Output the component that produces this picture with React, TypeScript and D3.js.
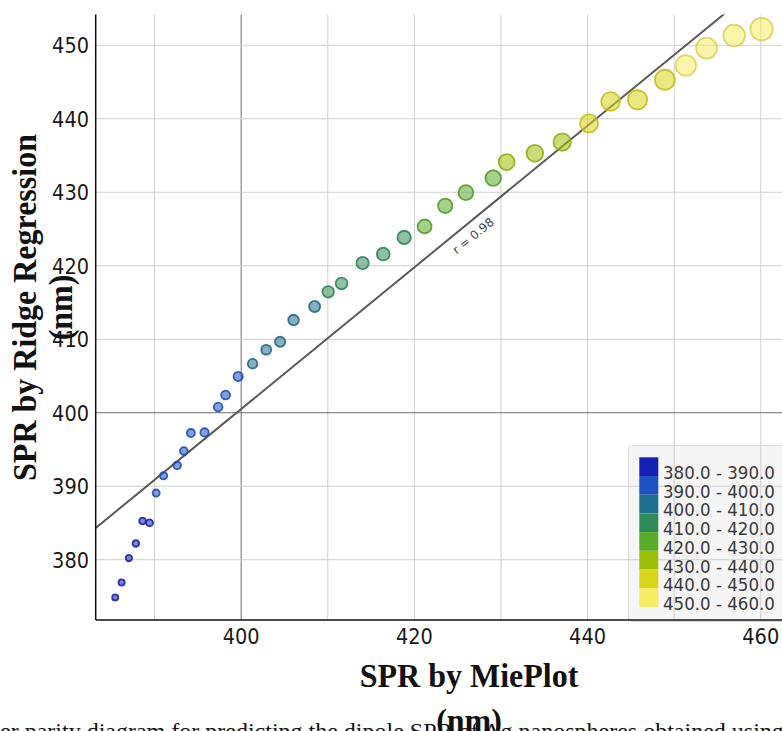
import React from "react";
import * as d3 from "d3";

const W = 782;
const H = 731;

// SPR by MiePlot (x) and SPR by Ridge Regression (y), in nm
const mieplot = [385.45, 386.19, 387.03, 387.84, 388.61, 389.42, 390.18, 391.04, 392.61, 393.38, 394.19, 395.77, 397.34, 398.2, 399.65, 401.32, 402.89, 404.5, 406.05, 408.48, 410.05, 411.59, 414.02, 416.4, 418.82, 421.18, 423.56, 425.95, 429.1, 430.65, 433.91, 437.07, 440.17, 442.66, 445.77, 448.93, 451.35, 453.74, 456.93, 460.09];
const ridge = [374.87, 376.91, 380.23, 382.22, 385.27, 385.03, 389.07, 391.43, 392.83, 394.79, 397.24, 397.32, 400.78, 402.41, 404.94, 406.67, 408.57, 409.66, 412.61, 414.46, 416.46, 417.59, 420.37, 421.59, 423.85, 425.35, 428.16, 429.96, 431.93, 434.11, 435.3, 436.83, 439.37, 442.35, 442.59, 445.31, 447.25, 449.62, 451.33, 452.2];

const binEdges = [390, 400, 410, 420, 430, 440, 450];
const binColors = ["#1421b3", "#1c52c2", "#1f6f8e", "#2f8c5a", "#5aab2a", "#9cbf0a", "#d8d41a", "#f7ec62"];
const legendLabels = ["380.0 - 390.0", "390.0 - 400.0", "400.0 - 410.0", "410.0 - 420.0", "420.0 - 430.0", "430.0 - 440.0", "440.0 - 450.0", "450.0 - 460.0"];

const xTicks = [400, 420, 440, 460];
const xGrid = [390, 400, 410, 420, 430, 440, 450, 460];
const yTicks = [380, 390, 400, 410, 420, 430, 440, 450];
const refValue = 400;

const fitSlope = 0.9636;
const fitIntercept = 15.07;
const fitLabel = "r = 0.98";
const fitLabelAt = 425.85;

const xTitle = ["SPR by MiePlot", "(nm)"];
const yTitle = ["SPR by Ridge Regression", "(nm)"];
const captionHidden = "Fig. 6. Scatt";
const captionVisible = "er parity diagram for predicting the dipole SPR of Ag nanospheres obtained using ridge regression";

const left = 95.7, right = 782.4, top = 14.4, bottom = 620;

export default function App() {
  React.useEffect(() => {
    document.body.style.margin = "0";
    document.body.style.overflow = "hidden";
  }, []);

  const x = d3.scaleLinear().domain([383.2, 462.5]).range([left, right]);
  const y = d3.scaleLinear().domain([371.8, 454.2]).range([bottom, top]);
  const color = d3.scaleThreshold<number, string>().domain(binEdges).range(binColors);
  const radius = d3.scaleLinear().domain([385, 460]).range([3, 11.2]);

  const fit = (v: number) => fitSlope * v + fitIntercept;
  const [d0, d1] = x.domain();
  const lineGen = d3.line<number>().x((v) => x(v)).y((v) => y(fit(v)));
  const fitPath = lineGen([d0, d1]) || "";
  const ang = (Math.atan2(y(fit(440)) - y(fit(400)), x(440) - x(400)) * 180) / Math.PI;

  const tickFont = "'DejaVu Sans Condensed', 'DejaVu Sans', sans-serif";
  const serif = "'Liberation Serif', 'Times New Roman', serif";

  const pts = mieplot.map((v, i) => ({ xv: v, yv: ridge[i] }));

  return (
    <svg width={W} height={H} style={{ position: "absolute", left: 0, top: 0, background: "#fff" }}>
      <defs>
        <clipPath id="plotclip">
          <rect x={left} y={top} width={right - left} height={bottom - top} />
        </clipPath>
      </defs>
      <rect x={0} y={0} width={W} height={H} fill="#fff" />

      {/* legend background (grid shows through) */}
      <rect x={628.5} y={445.5} width={170} height={176} rx={3} fill="#ececec" fillOpacity={0.55} stroke="#d8d8d8" strokeWidth={1} />

      {/* grid */}
      {xGrid.map((t) => (
        <line key={"gx" + t} x1={x(t)} x2={x(t)} y1={top} y2={bottom}
          stroke={t === refValue ? "#6e6e6e" : "#cfcfcf"} strokeWidth={1} />
      ))}
      {yTicks.map((t) => (
        <line key={"gy" + t} x1={left} x2={right} y1={y(t)} y2={y(t)}
          stroke={t === refValue ? "#6e6e6e" : "#cfcfcf"} strokeWidth={1} />
      ))}

      {/* fit line */}
      <g clipPath="url(#plotclip)">
        <path d={fitPath} fill="none" stroke="#5a5a5a" strokeWidth={2} />
      </g>
      <g transform={`translate(${x(fitLabelAt)},${y(fit(fitLabelAt))}) rotate(${ang})`}>
        <text x={0} y={17} textAnchor="middle" fontSize={12} fill="#444" fontFamily="'DejaVu Sans', sans-serif">{fitLabel}</text>
      </g>

      {/* points */}
      <g clipPath="url(#plotclip)">
        {pts.map((p, i) => {
          const c = color(p.xv);
          return (
            <circle key={i} cx={x(p.xv)} cy={y(p.yv)} r={radius(p.xv)}
              fill={c} fillOpacity={0.55}
              stroke={d3.color(c)!.darker(0.35).formatHex()} strokeOpacity={0.85} strokeWidth={1.8} />
          );
        })}
      </g>

      {/* legend */}
      {legendLabels.map((lab, i) => (
        <g key={"lg" + i}>
          <rect x={639.3} y={457.3 + i * 18.7} width={19} height={18.7} fill={binColors[i]} />
          <text x={663} y={479 + i * 18.7} fontSize={18.5} fill="#3a3a3a" fontFamily={tickFont} style={{ fontStretch: "condensed" }}>{lab}</text>
        </g>
      ))}

      {/* axes */}
      <line x1={left} x2={left} y1={top} y2={bottom} stroke="#111" strokeWidth={1.5} />
      <line x1={left} x2={W} y1={bottom} y2={bottom} stroke="#111" strokeWidth={1.5} />

      {xTicks.map((t) => (
        <text key={"xt" + t} x={x(t)} y={643.5} textAnchor="middle" fontSize={21.5} fill="#1a1a1a" fontFamily={tickFont} style={{ fontStretch: "condensed" }}>{t}</text>
      ))}
      {yTicks.map((t) => (
        <text key={"yt" + t} x={89} y={y(t) + 8} textAnchor="end" fontSize={21.5} fill="#1a1a1a" fontFamily={tickFont} style={{ fontStretch: "condensed" }}>{t}</text>
      ))}

      {/* caption (clipped by page bottom) */}
      <text x={0} y={739} textAnchor="end" fontSize={24} fill="#111" fontFamily={serif}>{captionHidden}</text>
      <text x={0} y={739} fontSize={24} fill="#111" fontFamily={serif}>{captionVisible}</text>

      {/* axis titles */}
      <g transform="translate(469,687.3) scale(1,1.07)" fontFamily={serif} fontWeight="bold" fontSize={32} fill="#111">
        <text x={0} y={0} textAnchor="middle">{xTitle[0]}</text>
        <text x={0} y={42} textAnchor="middle">{xTitle[1]}</text>
      </g>
      <g transform="translate(36,307.5) rotate(-90) scale(1,1.07)" fontFamily={serif} fontWeight="bold" fontSize={32} fill="#111">
        <text x={0} y={0} textAnchor="middle">{yTitle[0]}</text>
        <text x={0} y={33.5} textAnchor="middle">{yTitle[1]}</text>
      </g>
    </svg>
  );
}
